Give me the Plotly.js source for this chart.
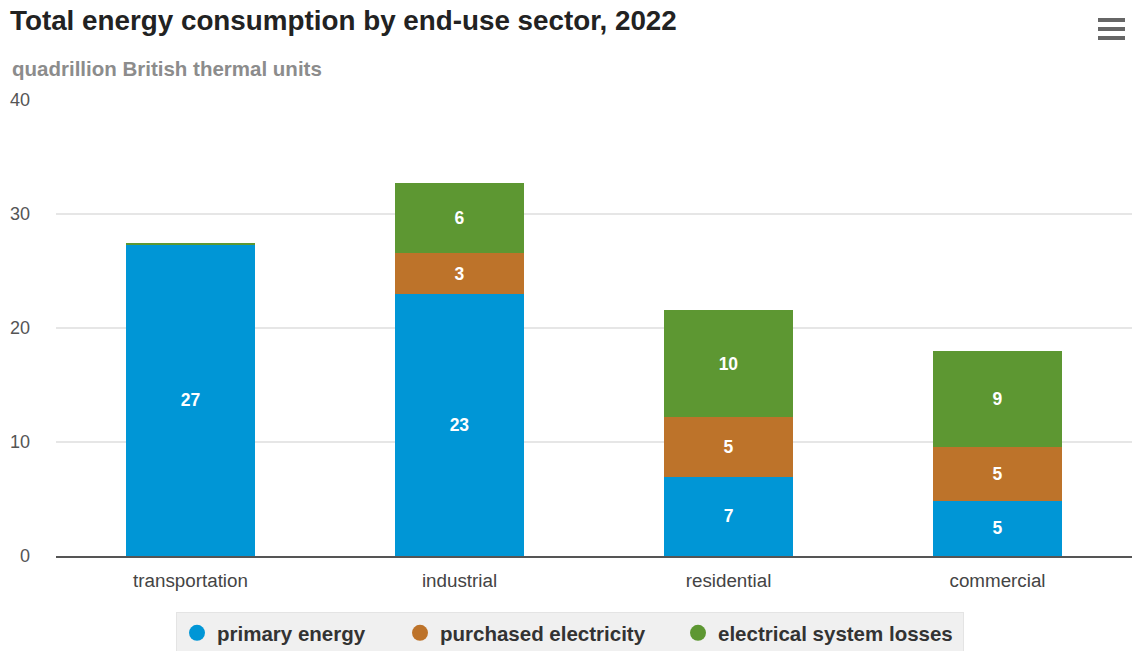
<!DOCTYPE html>
<html>
<head>
<meta charset="utf-8">
<script src="https://cdn.plot.ly/plotly-3.0.1.min.js"></script>
<style>
  html, body { margin: 0; padding: 0; background: #ffffff; }
  #chart { width: 1136px; height: 651px; }
</style>
</head>
<body>
<div id="chart"></div>
<script>
// Data (quadrillion Btu, 2022)
var categories = ['transportation', 'industrial', 'residential', 'commercial'];
var primaryEnergy = [27.3, 23.0, 6.95, 4.85];
var purchasedElectricity = [0.02, 3.55, 5.2, 4.75];
var systemLosses = [0.1, 6.2, 9.4, 8.35];
var primaryLabels = ['27', '23', '7', '5'];
var purchasedLabels = ['', '3', '5', '5'];
var lossesLabels = ['', '6', '10', '9'];
var seriesNames = ['primary energy', 'purchased electricity', 'electrical system losses'];
var seriesColors = ['#0096d6', '#bd732a', '#5d9732'];
var yTicks = [0, 10, 20, 30, 40];

var FONT = 'Liberation Sans, Arial, sans-serif';
var legendWidths = [178, 233, 240];

function barTrace(vals, labels, i) {
  return {
    type: 'bar',
    x: categories,
    y: vals,
    name: seriesNames[i],
    text: labels,
    textposition: 'inside',
    insidetextanchor: 'middle',
    textangle: 0,
    constraintext: 'none',
    textfont: { family: FONT, size: 17.5, color: '#ffffff', weight: 'bold' },
    marker: { color: seriesColors[i], line: { width: 0 } },
    showlegend: false,
    hoverinfo: 'x+y+name'
  };
}

function legendTrace(i) {
  return {
    type: 'scatter',
    mode: 'markers',
    x: [null],
    y: [null],
    name: seriesNames[i],
    legendwidth: legendWidths[i],
    marker: { color: seriesColors[i], size: 18, symbol: 'circle' },
    showlegend: true,
    hoverinfo: 'skip'
  };
}

var data = [
  barTrace(primaryEnergy, primaryLabels, 0),
  barTrace(purchasedElectricity, purchasedLabels, 1),
  barTrace(systemLosses, lossesLabels, 2),
  legendTrace(0), legendTrace(1), legendTrace(2)
];

var layout = {
  width: 1136,
  height: 651,
  paper_bgcolor: '#ffffff',
  plot_bgcolor: '#ffffff',
  barmode: 'stack',
  bargap: 0.517,
  margin: { l: 56, r: 4, t: 100, b: 95, pad: 0 },
  font: { family: FONT, color: '#333333' },
  title: {
    text: '<b>Total energy consumption by end-use sector, 2022</b>',
    font: { family: FONT, size: 27.8, color: '#222222' },
    xref: 'container', x: 10 / 1136, xanchor: 'left',
    yref: 'container', y: 1 - 20 / 651, yanchor: 'middle'
  },
  xaxis: {
    type: 'category',
    showgrid: false,
    showline: true,
    linecolor: '#555555',
    linewidth: 1.5,
    ticks: '',
    tickfont: { family: FONT, size: 18.8, color: '#444444' },
    ticklabelstandoff: 7,
    fixedrange: true
  },
  yaxis: {
    range: [0, 40],
    tickvals: yTicks,
    ticktext: yTicks.map(String),
    showgrid: true,
    gridcolor: '#e6e6e6',
    gridwidth: 1.5,
    zeroline: false,
    showline: false,
    ticks: '',
    tickfont: { family: FONT, size: 18, color: '#555555' },
    ticklabelstandoff: 25,
    fixedrange: true
  },
  legend: {
    orientation: 'h',
    traceorder: 'normal',
    xref: 'container', x: 570 / 1136, xanchor: 'center',
    yref: 'container', y: 1 - 612 / 651, yanchor: 'top',
    bgcolor: '#f0f0f0',
    bordercolor: '#e4e4e4',
    borderwidth: 1,
    font: { family: FONT, size: 20.5, color: '#333333', weight: 'bold' },
    itemclick: false,
    itemdoubleclick: false
  },
  annotations: [{
    text: '<b>quadrillion British thermal units</b>',
    xref: 'paper', yref: 'paper',
    x: (10 - 56) / 1076, xanchor: 'left',
    y: (556 - 68) / 456, yanchor: 'middle',
    showarrow: false,
    font: { family: FONT, size: 20.5, color: '#8c8c8c' }
  }],
  shapes: [20, 29, 38].map(function (py) {
    return {
      type: 'line', xref: 'paper', yref: 'paper',
      x0: (1098 - 56) / 1076, x1: (1125 - 56) / 1076,
      y0: (556 - py) / 456, y1: (556 - py) / 456,
      line: { color: '#666666', width: 4 }
    };
  })
};

Plotly.newPlot('chart', data, layout, { displayModeBar: false, staticPlot: true });
</script>
</body>
</html>
